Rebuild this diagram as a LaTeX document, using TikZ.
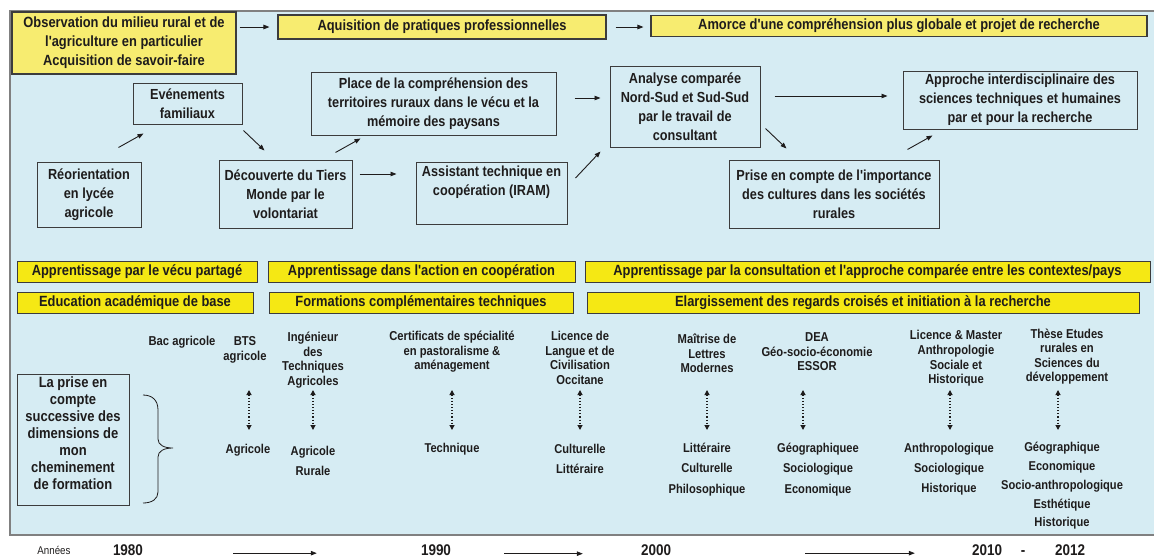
\documentclass[tikz,border=0pt]{standalone}
\usepackage{fontspec}
\setmainfont{Liberation Sans}[FakeStretch=0.87, Ligatures=TeXOff]
\usetikzlibrary{arrows.meta}
\definecolor{panelblue}{RGB}{214,236,243}
\definecolor{paley}{RGB}{247,236,112}
\definecolor{brighty}{RGB}{245,232,20}
\definecolor{edgegray}{RGB}{128,128,128}
\definecolor{boxline}{RGB}{60,60,60}
\definecolor{ink}{RGB}{30,28,28}
\tikzset{
  topbox/.style={draw=boxline, line width=1.1pt, fill=paley, align=center, inner sep=0pt, text=ink,
    font=\bfseries\fontsize{14.8}{19}\selectfont},
  wbox/.style={draw=boxline, line width=1pt, align=center, inner sep=0pt, text=ink,
    font=\bfseries\fontsize{14.6}{19}\selectfont},
  rowbox/.style={draw=boxline, line width=1pt, fill=brighty, align=center, inner sep=0pt, text=ink,
    minimum height=21pt, font=\bfseries\fontsize{14.8}{17}\selectfont},
  lbl/.style={align=center, inner sep=0pt, text=ink, font=\bfseries\fontsize{12.9}{14.6}\selectfont},
  dimlbl/.style={align=center, inner sep=0pt, text=ink, font=\bfseries\fontsize{12.8}{20.2}\selectfont},
  yearlbl/.style={inner sep=0pt, anchor=base, text=ink, font=\bfseries\fontsize{15.5}{17}\selectfont},
  arr/.style={-{Triangle[length=6pt,width=4.5pt]}, line width=0.9pt, draw=ink},
  darr/.style={{Triangle[length=5pt,width=5pt]}-{Triangle[length=5pt,width=5pt]}, dotted, line width=1.1pt, draw=ink}
}
\begin{document}
\begin{tikzpicture}[x=1pt,y=-1pt]
\useasboundingbox (0,0) rectangle (1154,558);
% panel
\fill[panelblue] (10,11) rectangle (1154,535);
\draw[edgegray, line width=1.6pt] (1154,11) -- (10,11) -- (10,535) -- (1154,535);

% top yellow headers
\node[topbox, minimum width=224pt, minimum height=62pt] (obs) at (124,43)
  {Observation du milieu rural et de\\l'agriculture en particulier\\Acquisition de savoir-faire};
\node[topbox, minimum width=328pt, minimum height=24pt] (aqu) at (442,27)
  {Aquisition de pratiques professionnelles};
\node[topbox, minimum width=496pt, minimum height=21pt] (amo) at (899,26)
  {Amorce d'une compréhension plus globale et projet de recherche};

% middle boxes
\node[wbox, minimum width=109pt, minimum height=41pt] (eve) at (187.5,103.5) {Evénements\\familiaux};
\node[wbox, minimum width=104pt, minimum height=65pt] (reo) at (89,194.5) {Réorientation\\en lycée\\agricole};
\node[wbox, minimum width=133pt, minimum height=68pt] (dec) at (285.5,194) {Découverte du Tiers\\Monde par le\\volontariat};
\node[wbox, minimum width=245pt, minimum height=63pt] (pla) at (433.5,103.5)
  {Place de la compréhension des\\territoires ruraux dans le vécu et la\\mémoire des paysans};
\node[wbox, minimum width=151pt, minimum height=62pt] (ass) at (491.5,193)
  {Assistant technique en\\coopération (IRAM)\\\strut};
\node[wbox, minimum width=150pt, minimum height=81pt] (ana) at (685,106.5)
  {Analyse comparée\\Nord-Sud et Sud-Sud\\par le travail de\\consultant};
\node[wbox, minimum width=210pt, minimum height=68pt] (pri) at (834,194)
  {Prise en compte de l'importance\\des cultures dans les sociétés\\rurales};
\node[wbox, minimum width=234pt, minimum height=58pt] (app) at (1020,100)
  {Approche interdisciplinaire des\\sciences techniques et humaines\\par et pour la recherche};

% arrows, upper part
\draw[arr, shorten <=3pt, shorten >=8pt] (obs.east |- aqu.west) -- (aqu.west);
\draw[arr, shorten <=9pt, shorten >=7pt] (aqu.east) -- (aqu.east -| amo.west);
\draw[arr] ([shift={(-23,-14)}]reo.north east) -- ([shift={(11,9)}]eve.south west);
\draw[arr] ([shift={(1,6)}]eve.south east) -- ([shift={(46,-9)}]dec.north west);
\draw[arr] ([shift={(-17,-7)}]dec.north east) -- ([shift={(50,3)}]pla.south west);
\draw[arr] ([shift={(7,-20)}]dec.east) -- ([shift={(-19,-19)}]ass.west);
\draw[arr] ([shift={(18,-5.5)}]pla.east) -- ([shift={(-9,-8.5)}]ana.west);
\draw[arr] ([shift={(8,-15)}]ass.east) -- ([shift={(-9,4)}]ana.south west);
\draw[arr] ([shift={(14,-10.5)}]ana.east) -- ([shift={(-15,-4)}]app.west);
\draw[arr] ([shift={(5,-19)}]ana.south east) -- ([shift={(58,-11)}]pri.north west);
\draw[arr] ([shift={(-32,-10)}]pri.north east) -- ([shift={(30,6)}]app.south west);

% row boxes
\node[rowbox, minimum width=240pt] (r1a) at (137,271.5) {Apprentissage par le vécu partagé};
\node[rowbox, minimum width=307pt] (r1b) at (421.5,271.5) {Apprentissage dans l'action en coopération};
\node[rowbox, minimum width=565pt] (r1c) at (867.5,271.5) {Apprentissage par la consultation et l'approche comparée entre les contextes/pays};
\node[rowbox, minimum width=236pt] (r2a) at (135,302.5) {Education académique de base};
\node[rowbox, minimum width=304pt] (r2b) at (421,303) {Formations complémentaires techniques};
\node[rowbox, minimum width=552pt] (r2c) at (863,302.5) {Elargissement des regards croisés et initiation à la recherche};

% left box and brace
\node[wbox, font=\bfseries\fontsize{14.9}{17}\selectfont, minimum width=112pt, minimum height=131pt] (prise) at (73,439.5)
  {La prise en\\compte\\successive des\\dimensions de\\mon\\cheminement\\de formation\\[-10pt]\strut};
\draw[ink, line width=0.8pt] (143,395) .. controls (152,395) and (158,400) .. (158,410) -- (158,439)
  .. controls (158,445) and (164,448) .. (173,448) .. controls (164,448) and (158,451) .. (158,457)
  -- (158,492) .. controls (158,499) and (152,503) .. (143,503);

% diploma titles
\node[lbl] (t1) at (182,342) {Bac agricole};
\node[lbl] (t2) at (245,350) {BTS\\agricole};
\node[lbl] (t3) at (313,360) {Ingénieur\\des\\Techniques\\Agricoles};
\node[lbl] (t4) at (452,352) {Certificats de spécialité\\en pastoralisme \&\\aménagement};
\node[lbl] (t5) at (580,358) {Licence de\\Langue et de\\Civilisation\\Occitane};
\node[lbl] (t6) at (707,353.5) {Maîtrise de\\Lettres\\Modernes};
\node[lbl] (t7) at (817,352) {DEA\\Géo-socio-économie\\ESSOR};
\node[lbl] (t8) at (956,358.5) {Licence \& Master\\Anthropologie\\Sociale et\\Historique};
\node[lbl] (t9) at (1067,356.5) {Thèse Etudes\\rurales en\\Sciences du\\développement};

% dimensions
\node[dimlbl] (d2) at (248,450) {Agricole};
\node[dimlbl] (d3) at (313,461) {Agricole\\Rurale};
\node[dimlbl] (d4) at (452,449) {Technique};
\node[dimlbl] (d5) at (580,459) {Culturelle\\Littéraire};
\node[dimlbl] (d6) at (707,469.5) {Littéraire\\Culturelle\\Philosophique};
\node[dimlbl] (d7) at (818,469.5) {Géographiquee\\Sociologique\\Economique};
\node[dimlbl] (d8) at (949,469) {Anthropologique\\Sociologique\\Historique};
\node[dimlbl, font=\bfseries\fontsize{12.8}{18.8}\selectfont] (d9) at (1062,486) {Géographique\\Economique\\Socio-anthropologique\\Esthétique\\Historique};

% dotted double arrows
\coordinate (ytop) at (0,390);
\coordinate (ybot) at (0,430);
\draw[darr] ([xshift=1pt]d2.north |- ytop) -- ([xshift=1pt]d2.north |- ybot);
\draw[darr] (d3.north |- ytop) -- (d3.north |- ybot);
\draw[darr] (d4.north |- ytop) -- (d4.north |- ybot);
\draw[darr] (d5.north |- ytop) -- (d5.north |- ybot);
\draw[darr] (d6.north |- ytop) -- (d6.north |- ybot);
\draw[darr] ([xshift=-15pt]d7.north |- ytop) -- ([xshift=-15pt]d7.north |- ybot);
\draw[darr] ([xshift=1pt]d8.north |- ytop) -- ([xshift=1pt]d8.north |- ybot);
\draw[darr] ([xshift=-4pt]d9.north |- ytop) -- ([xshift=-4pt]d9.north |- ybot);

% time axis
\node[inner sep=0pt, anchor=base, text=ink, font=\fontsize{11.2}{13}\selectfont] (ann) at (54,554) {Années};
\node[yearlbl] (y80) at (128,555.5) {1980};
\node[yearlbl] (y90) at (436,555.5) {1990};
\node[yearlbl] (y00) at (656,555.5) {2000};
\node[yearlbl] (y10) at (987,555.5) {2010};
\node[yearlbl] (dash) at (1023,555.5) {-};
\node[yearlbl] (y12) at (1070,555.5) {2012};
\draw[arr, line width=0.8pt, shorten <=90pt, shorten >=104pt] ([yshift=-3pt]y80.east) -- ([yshift=-3pt]y90.west);
\draw[arr, line width=0.8pt, shorten <=53pt, shorten >=58pt] ([yshift=-3.5pt]y90.east) -- ([yshift=-3.5pt]y00.west);
\draw[arr, line width=0.8pt, shorten <=134pt, shorten >=57pt] ([yshift=-3pt]y00.east) -- ([yshift=-3pt]y10.west);
\end{tikzpicture}
\end{document}
